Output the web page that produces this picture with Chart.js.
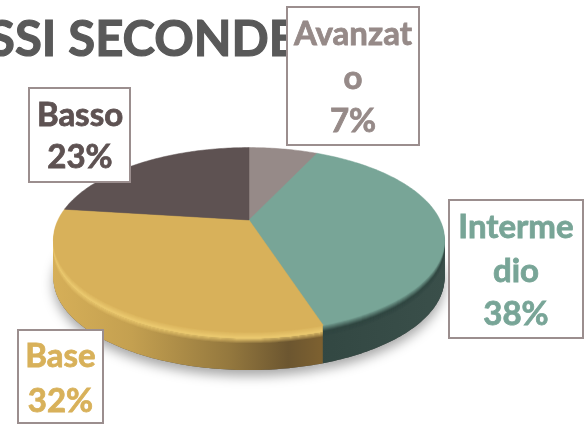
<!DOCTYPE html>
<html>
<head>
<meta charset="utf-8">
<style>
  html, body { margin: 0; padding: 0; background: #fff; overflow: hidden; }
  canvas { display: block; }
</style>
<script src="https://cdn.jsdelivr.net/npm/chart.js@4"></script>
</head>
<body>
<canvas id="chartLivelli" width="585" height="424"></canvas>
<script>
// Dati del grafico
const titolo = 'CLASSI SECONDE';
const categorie = ['Avanzato', 'Intermedio', 'Base', 'Basso'];
const valori = [7, 38, 32, 23];
// Righe delle etichette, spezzate come nell'originale
const righeNome = [['Avanzat', 'o'], ['Interme', 'dio'], ['Base'], ['Basso']];

// Colori
const coloriFetta = ['#968a88', '#78a597', '#d8b15a', '#5e5252'];
const coloriBordoAlto = ['#968a88', '#2f4540', '#ecca70', '#5e5252'];
const coloriLato = [
  [[0, '#5c5351'], [1, '#5c5351']],
  [[0, '#2c403b'], [0.5, '#2e433e'], [1, '#3a4f4a']],
  [[0, '#d6af58'], [0.2, '#c4a050'], [0.45, '#94783e'], [0.6, '#6c5630'], [0.68, '#7c6030'], [1, '#7c6030']],
  [[0, '#3e3535'], [1, '#3e3535']]
];

// Riquadri etichette: x, y, larghezza, altezza, centro testo, prime linee di base
const riquadri = [
  { x: 287, y: 7, w: 132, h: 138, cx: 353, base: 45, passo: 43.5 },
  { x: 449, y: 200, w: 134, h: 138, cx: 516, base: 238, passo: 43.5 },
  { x: 18, y: 330, w: 85, h: 93, cx: 60.5, base: 367, passo: 45 },
  { x: 29, y: 88, w: 101, h: 94, cx: 80, base: 126, passo: 42 }
];

// Geometria della torta in prospettiva
const centroX = 249, centroY = 220;
const raggioX = 191, raggioY = 88, fuga = 0.215;
const spessore = 38, smusso = 12;

function proietta(angolo, dy) {
  const u = Math.cos(angolo), v = Math.sin(angolo);
  const w = 1 - fuga * v;
  return [centroX + raggioX * u / w, centroY + raggioY * v / w + dy];
}

function tracciaFetta(ctx, arco, dy) {
  const passi = Math.max(8, Math.ceil((arco.endAngle - arco.startAngle) * 60));
  ctx.beginPath();
  ctx.moveTo(centroX, centroY + dy);
  for (let i = 0; i <= passi; i++) {
    const a = arco.startAngle + (arco.endAngle - arco.startAngle) * i / passi;
    const p = proietta(a, dy);
    ctx.lineTo(p[0], p[1]);
  }
  ctx.closePath();
}

function miscela(c1, c2, t) {
  const a = parseInt(c1.slice(1), 16), b = parseInt(c2.slice(1), 16);
  const r = Math.round((a >> 16) * (1 - t) + (b >> 16) * t);
  const g = Math.round(((a >> 8) & 255) * (1 - t) + ((b >> 8) & 255) * t);
  const bl = Math.round((a & 255) * (1 - t) + (b & 255) * t);
  return `rgb(${r},${g},${bl})`;
}

const pluginTorta3D = {
  id: 'torta3d',
  // Titolo sotto a tutto: a sinistra esce dalla tela
  beforeDraw(chart) {
    const ctx = chart.ctx;
    ctx.save();
    ctx.font = 'bold 49px Lato';
    ctx.fillStyle = '#595959';
    ctx.strokeStyle = '#595959';
    ctx.lineWidth = 1.2;
    ctx.textAlign = 'right';
    ctx.textBaseline = 'alphabetic';
    ctx.fillText(titolo, 297, 56);
    ctx.strokeText(titolo, 297, 56);
    ctx.restore();
  },
  // Gli archi di Chart.js danno gli angoli, il disegno passa dalla prospettiva
  beforeDatasetDraw(chart) {
    const ctx = chart.ctx;
    const archi = chart.getDatasetMeta(0).data;
    ctx.save();

    // Ombra
    ctx.save();
    ctx.shadowColor = 'rgba(0,0,0,0.35)';
    ctx.shadowBlur = 12;
    ctx.shadowOffsetY = 6;
    ctx.fillStyle = '#555';
    archi.forEach(arco => {
      tracciaFetta(ctx, arco, spessore);
      ctx.fill();
    });
    ctx.restore();

    // Fianco, a strati dal basso verso l'alto
    const gradienti = coloriLato.map(stops => {
      const g = ctx.createLinearGradient(53, 0, 445, 0);
      stops.forEach(s => g.addColorStop(s[0], s[1]));
      return g;
    });
    for (let d = spessore; d > smusso; d--) {
      archi.forEach((arco, i) => {
        ctx.fillStyle = gradienti[i];
        tracciaFetta(ctx, arco, d);
        ctx.fill();
      });
    }

    // Smusso tra fianco e faccia
    for (let d = smusso; d > 0; d--) {
      const t = 1 - d / smusso;
      archi.forEach((arco, i) => {
        if (t < 0.45) {
          ctx.fillStyle = gradienti[i];
          ctx.globalAlpha = 1;
          tracciaFetta(ctx, arco, d);
          ctx.fill();
          ctx.fillStyle = coloriBordoAlto[i];
          ctx.globalAlpha = t / 0.45;
        } else {
          ctx.fillStyle = miscela(coloriBordoAlto[i], coloriFetta[i], (t - 0.45) / 0.55);
          ctx.globalAlpha = 1;
        }
        tracciaFetta(ctx, arco, d);
        ctx.fill();
      });
    }
    ctx.globalAlpha = 1;

    // Faccia superiore
    archi.forEach((arco, i) => {
      ctx.fillStyle = coloriFetta[i];
      ctx.strokeStyle = coloriFetta[i];
      ctx.lineWidth = 0.5;
      tracciaFetta(ctx, arco, 0);
      ctx.fill();
      ctx.stroke();
    });
    ctx.restore();
    return false;
  },
  afterDraw(chart) {
    const ctx = chart.ctx;
    ctx.save();
    ctx.textAlign = 'center';
    ctx.textBaseline = 'alphabetic';
    riquadri.forEach((r, i) => {
      ctx.fillStyle = '#fff';
      ctx.fillRect(r.x, r.y, r.w, r.h);
      ctx.strokeStyle = '#9b8e8e';
      ctx.lineWidth = 2;
      ctx.strokeRect(r.x, r.y, r.w, r.h);
      ctx.fillStyle = coloriFetta[i];
      ctx.strokeStyle = coloriFetta[i];
      ctx.lineWidth = 0.8;
      ctx.font = 'bold 33px Lato';
      const righe = righeNome[i].concat(valori[i] + '%');
      righe.forEach((t, n) => {
        ctx.fillText(t, r.cx, r.base + n * r.passo);
        ctx.strokeText(t, r.cx, r.base + n * r.passo);
      });
    });
    ctx.restore();
  }
};

new Chart(document.getElementById('chartLivelli').getContext('2d'), {
  type: 'pie',
  data: {
    labels: categorie,
    datasets: [{ data: valori, backgroundColor: coloriFetta, borderWidth: 0 }]
  },
  options: {
    responsive: false,
    animation: false,
    plugins: {
      legend: { display: false },
      title: { display: false },
      tooltip: { enabled: false }
    }
  },
  plugins: [pluginTorta3D]
});
</script>
</body>
</html>
